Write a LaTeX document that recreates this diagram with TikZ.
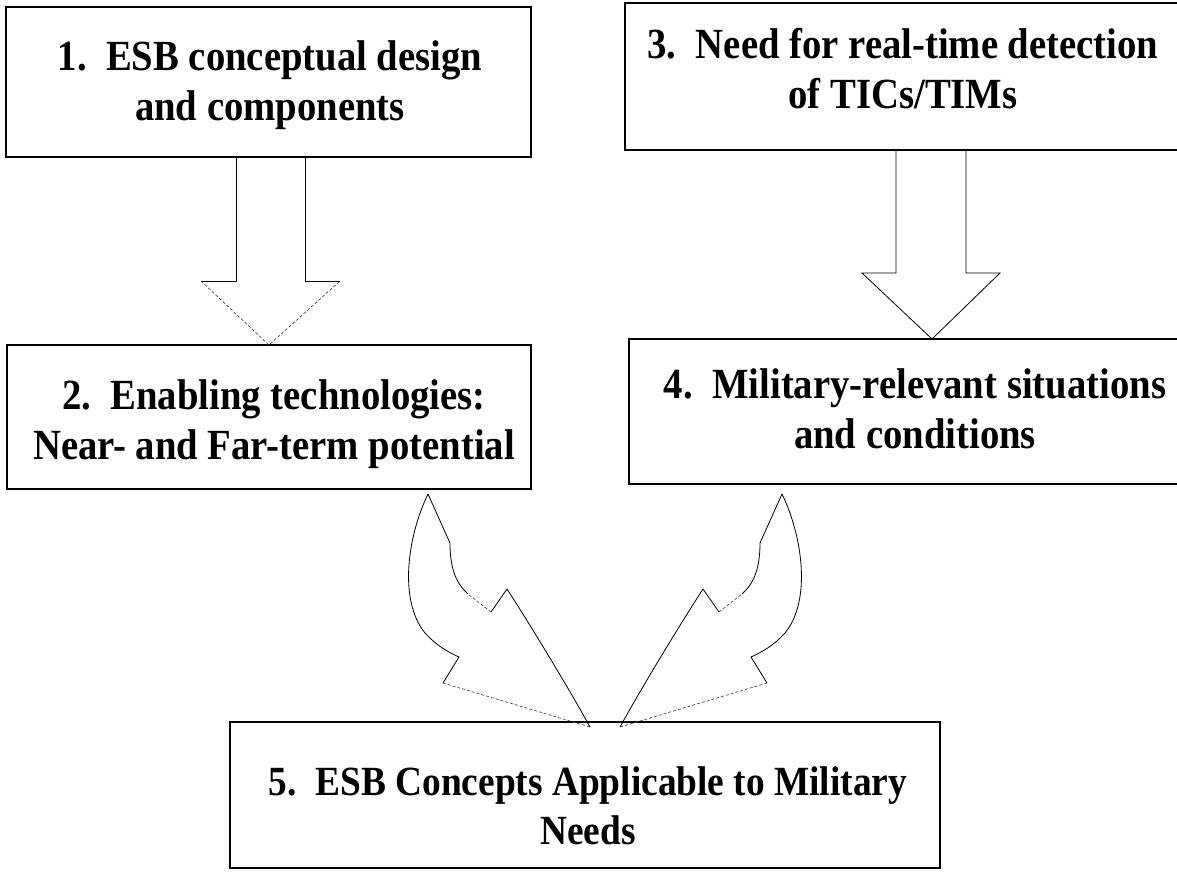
\documentclass[tikz,border=0pt]{standalone}
\usepackage{fontspec}
\setmainfont{Liberation Serif}[FakeStretch=0.9]
\newcommand\leafarrow{%
  \draw[blk] (428,494) .. controls (408,535) and (398,600) .. (425,633)
        .. controls (437,646) and (448,652) .. (459,657) -- (443,683);
  \draw[faint] (443,683) -- (590,727);
  \draw[blk] (590,727) .. controls (572,694) and (536,634) .. (507,589) -- (491,612);
  \draw[faint] (491,612) -- (468,594);
  \draw[blk] (468,594) .. controls (458,585) and (450,572) .. (450,543) -- (428,494);
}
\begin{document}
\begin{tikzpicture}[x=1pt,y=-1pt,
  box/.style={draw, line width=1.1pt, inner sep=0pt},
  txt/.style={font=\bfseries\fontsize{43}{50}\selectfont, align=center, inner sep=0pt},
  blk/.style={line width=0.8pt},
  faint/.style={line width=0.7pt, densely dashed, black!70}]
\useasboundingbox (0,0) rectangle (1177,871);
\clip (0,0) rectangle (1177,871);
% boxes
\node[box, minimum width=525pt, minimum height=150pt] (b1) at (268.5,82) {};
\node[box, minimum width=524pt, minimum height=144pt] (b2) at (269,417) {};
\node[box, minimum width=556pt, minimum height=147pt] (b3) at (903,76.5) {};
\node[box, minimum width=574pt, minimum height=145pt] (b4) at (916,411.5) {};
\node[box, minimum width=710pt, minimum height=146pt] (b5) at (585,795) {};
% texts
\node[txt] (t1) at (270,85) {1.\ \ ESB conceptual design\\and components};
\node[txt] (t2) at (274,424) {2.\ \ Enabling technologies:\\Near- and Far-term potential};
\node[txt] (t3) at (903,69) {3.\ \ Need for real-time detection\\of TICs/TIMs};
\node[txt] (t4) at (915,409) {4.\ \ Military-relevant situations\\and conditions};
\node[txt, font=\bfseries\fontsize{41.5}{49}\selectfont] (t5) at (588,806) {5.\ \ ESB Concepts Applicable to Military\\Needs};
% arrow 1 -> 2
\draw[blk] (236,157) -- (236,281) -- (201,281);
\draw[faint] (201,281) -- (269,345) -- (340,281);
\draw[blk] (340,281) -- (305,281) -- (305,157);
% arrow 3 -> 4
\draw[blk] (896,150) -- (896,273) -- (862,273) -- (932,339) -- (1000,273) -- (966,273) -- (966,150);
% curved arrows 2 -> 5 and 4 -> 5
\leafarrow
\begin{scope}[shift={(1210,0)}, xscale=-1]
\leafarrow
\end{scope}
\end{tikzpicture}
\end{document}
